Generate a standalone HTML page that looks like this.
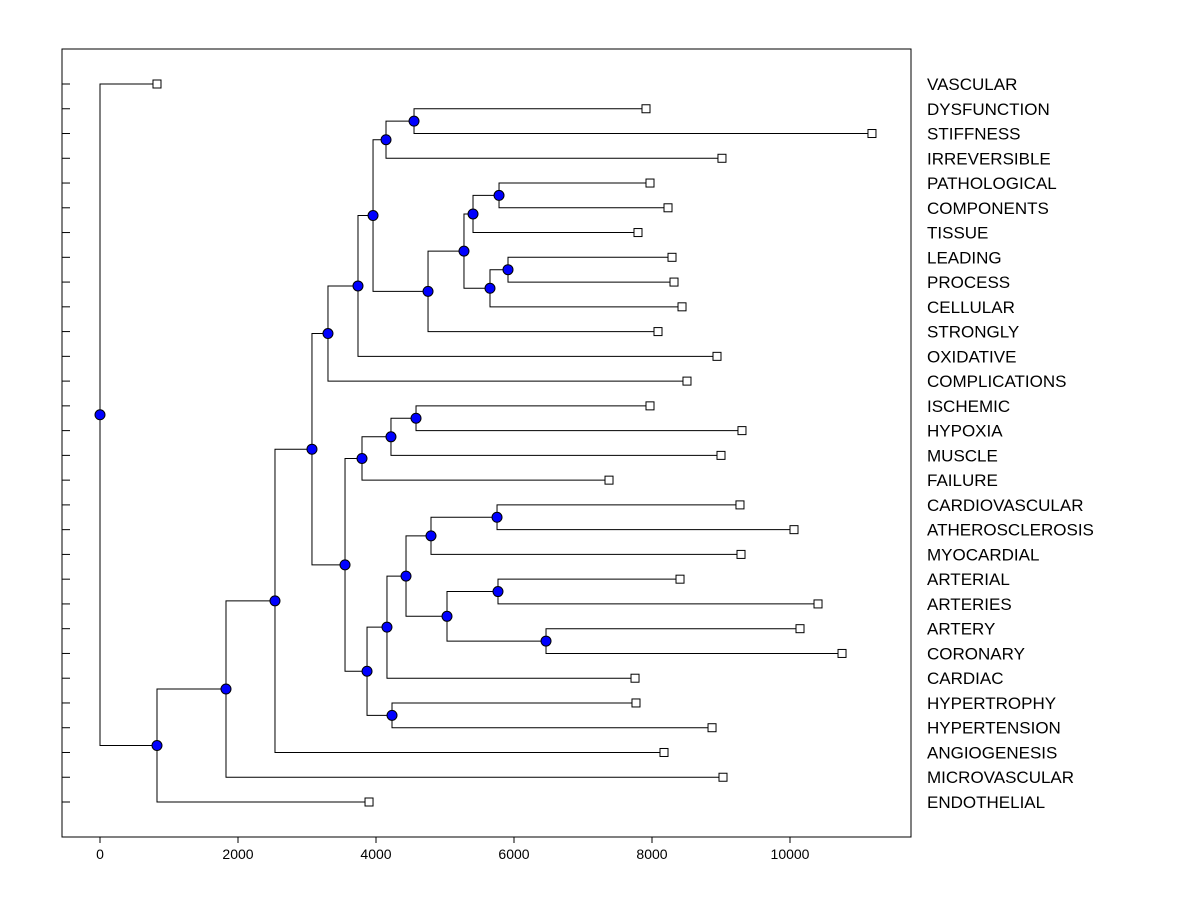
<!DOCTYPE html>
<html><head><meta charset="utf-8"><style>
body{margin:0;background:#fff;}
svg{display:block;font-family:"Liberation Sans",Arial,sans-serif;}
</style></head><body>
<svg id="chart" width="1200" height="900" xmlns="http://www.w3.org/2000/svg">
<rect x="0" y="0" width="1200" height="900" fill="#fff"/>
<rect x="62" y="49" width="849" height="788" fill="none" stroke="#000" stroke-width="1"/>
<g id="links"></g>
<g id="marks"></g>
<g id="axes"></g>
</svg>
<script>
const leafNames = ["VASCULAR","DYSFUNCTION","STIFFNESS","IRREVERSIBLE","PATHOLOGICAL","COMPONENTS","TISSUE","LEADING","PROCESS","CELLULAR","STRONGLY","OXIDATIVE","COMPLICATIONS","ISCHEMIC","HYPOXIA","MUSCLE","FAILURE","CARDIOVASCULAR","ATHEROSCLEROSIS","MYOCARDIAL","ARTERIAL","ARTERIES","ARTERY","CORONARY","CARDIAC","HYPERTROPHY","HYPERTENSION","ANGIOGENESIS","MICROVASCULAR","ENDOTHELIAL"];
const leafValues = [826,7913,11188,9014,7971,8232,7797,8290,8319,8435,8087,8942,8507,7971,9304,9000,7377,9275,10058,9290,8406,10406,10145,10754,7754,7768,8870,8174,9029,3899];
const mergePairs = [
 ["L1","L2",4551],   //N0
 ["N0","L3",4145],   //N1
 ["L4","L5",5783],   //N2
 ["N2","L6",5406],   //N3
 ["L7","L8",5913],   //N4
 ["N4","L9",5652],   //N5
 ["N3","N5",5275],   //N6
 ["N6","L10",4754],  //N7
 ["N1","N7",3957],   //N8
 ["N8","L11",3739],  //N9
 ["N9","L12",3304],  //N10
 ["L13","L14",4580], //N11
 ["N11","L15",4217], //N12
 ["N12","L16",3797], //N13
 ["L17","L18",5754], //N14
 ["N14","L19",4797], //N15
 ["L20","L21",5768], //N16
 ["L22","L23",6464], //N17
 ["N16","N17",5029], //N18
 ["N15","N18",4435], //N19
 ["N19","L24",4159], //N20
 ["L25","L26",4232], //N21
 ["N20","N21",3870], //N22
 ["N13","N22",3551], //N23
 ["N10","N23",3072], //N24
 ["N24","L27",2536], //N25
 ["N25","L28",1826], //N26
 ["N26","L29",826],  //N27
 ["L0","N27",0]      //N28
];
const xTicks = [0,2000,4000,6000,8000,10000];

const NS="http://www.w3.org/2000/svg";
const xScale = v => 100 + v*0.069;
const yScale = i => 84 + i*(802-84)/29;
const links=document.getElementById('links'), marks=document.getElementById('marks'), axes=document.getElementById('axes');
function mk(tag, attrs, parent){const e=document.createElementNS(NS,tag);for(const k in attrs)e.setAttribute(k,attrs[k]);parent.appendChild(e);return e;}
const pos={};
leafNames.forEach((n,i)=>{pos["L"+i]={x:xScale(leafValues[i]),y:yScale(i)};});
mergePairs.forEach((m,i)=>{
  const a=pos[m[0]], b=pos[m[1]], x=xScale(m[2]);
  pos["N"+i]={x:x,y:(a.y+b.y)/2};
  const p=mk('path',{d:`M${a.x},${a.y}H${x}V${b.y}H${b.x}`,fill:'none',stroke:'#000','stroke-width':1},links);
  
  
});
mergePairs.forEach((m,i)=>{
  const p=pos["N"+i];
  const c=mk('circle',{cx:p.x,cy:p.y,r:5,fill:'#0000ff',stroke:'#000','stroke-width':1},marks);
  
  
});
leafNames.forEach((n,i)=>{
  const p=pos["L"+i];
  const r=mk('rect',{x:p.x-4,y:p.y-4,width:8,height:8,fill:'#fff',stroke:'#000','stroke-width':1},marks);
  
  
  const t=mk('text',{x:927,y:p.y+6,'font-size':17,fill:'#000'},axes);
  t.textContent=n;
  
  
  const tk=mk('line',{x1:62,x2:70,y1:p.y,y2:p.y,stroke:'#000'},axes);
  
  
});
xTicks.forEach(v=>{
  const x=xScale(v);
  const tk=mk('line',{x1:x,x2:x,y1:837,y2:843,stroke:'#000'},axes);
  
  
  const t=mk('text',{x:x,y:859,'font-size':14,'text-anchor':'middle',fill:'#000'},axes);
  t.textContent=String(v);
  
  
});
</script>
</body></html>
